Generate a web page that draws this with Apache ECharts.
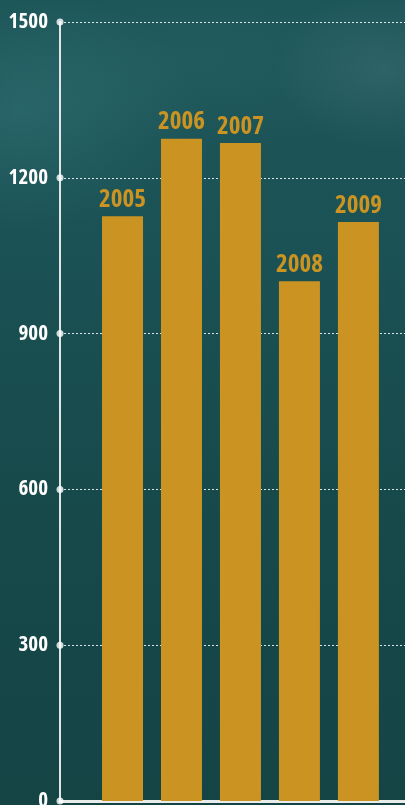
<!DOCTYPE html>
<html>
<head>
<meta charset="utf-8">
<script src="https://cdn.jsdelivr.net/npm/echarts@6/dist/echarts.min.js"></script>
<style>
html,body{margin:0;padding:0;width:405px;height:805px;overflow:hidden;}
body{
  background:
    radial-gradient(ellipse 180px 120px at 20px 110px, rgba(70,140,145,0.30), rgba(70,140,145,0) 100%),
    radial-gradient(ellipse 110px 80px at 385px 70px, rgba(110,150,150,0.22), rgba(110,150,150,0) 100%),
    radial-gradient(ellipse 220px 90px at 200px 60px, rgba(60,120,125,0.20), rgba(60,120,125,0) 100%),
    linear-gradient(180deg, #1c5558 0%, #1b5255 30%, #174a4b 60%, #154445 100%);
}
#chart{width:405px;height:805px;}
</style>
</head>
<body>
<div id="chart"></div>
<script>
const categories = ['2005', '2006', '2007', '2008', '2009'];
const values = [1126, 1275, 1267, 1001, 1115];
const yTicks = [0, 300, 600, 900, 1200, 1500];

const xMin = -1.06, xMax = 4.79;
const chart = echarts.init(document.getElementById('chart'), null, {renderer: 'canvas'});
const fam = '"Open Sans", "Roboto Condensed", sans-serif';

chart.setOption({
  backgroundColor: 'transparent',
  animation: false,
  grid: {left: 60, right: 0, top: 22, bottom: 4, containLabel: false, outerBoundsMode: 'none'},
  xAxis: {
    type: 'value', min: xMin, max: xMax,
    axisLine: {show: true, onZero: false, lineStyle: {color: '#e8ecea', width: 3}},
    axisTick: {show: false}, axisLabel: {show: false}, splitLine: {show: false}
  },
  yAxis: {
    type: 'value', min: 0, max: 1500, interval: 300,
    axisLine: {show: true, onZero: false, lineStyle: {color: '#dfe6e4', width: 2}},
    axisTick: {show: false},
    axisLabel: {color: '#ffffff', fontFamily: fam, fontWeight: 'bold condensed', fontSize: 21, margin: 12,
      formatter: v => String(v)},
    splitLine: {show: true, lineStyle: {color: 'rgba(255,255,255,0.85)', width: 1, type: [2, 2]}}
  },
  series: [
    {
      type: 'bar',
      barWidth: 41,
      data: values.map((v, i) => [i, v]),
      itemStyle: {color: '#ca9322'},
      label: {
        show: true, position: 'top', distance: 4,
        formatter: p => categories[p.dataIndex],
        color: '#ca9322', fontFamily: fam, fontWeight: 'bold condensed', fontSize: 25
      }
    },
    {
      type: 'scatter',
      data: yTicks.map(t => [xMin, t]),
      symbol: 'circle', symbolSize: 7,
      itemStyle: {color: '#ffffff'},
      clip: false, silent: true, z: 5
    }
  ]
});
</script>
</body>
</html>
